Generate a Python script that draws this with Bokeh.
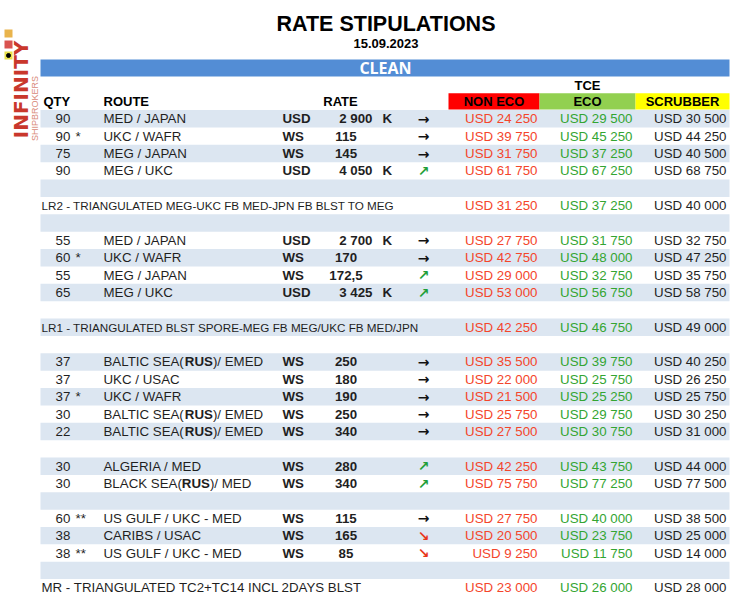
import math
from bokeh.plotting import figure
from bokeh.models import Range1d
from bokeh.embed import file_html
from bokeh.resources import INLINE
from bokeh.core.properties import value

# ---------------- data ----------------
title = "RATE STIPULATIONS"
report_date = "15.09.2023"
segment = "CLEAN"
tce_label = "TCE"
tce_columns = ["NON ECO", "ECO", "SCRUBBER"]
head_labels = ["QTY", "ROUTE", "RATE"]

# 28 table rows ("" = empty spacer row)
qty = ["90", "90", "75", "90", "", "", "", "55", "60", "55", "65", "", "", "",
       "37", "37", "37", "30", "22", "", "30", "30", "", "60", "38", "38", "", ""]
qty_mark = ["", "*", "", "", "", "", "", "", "*", "", "", "", "", "",
            "", "", "*", "", "", "", "", "", "", "**", "", "**", "", ""]
route = ["MED / JAPAN", "UKC / WAFR", "MEG / JAPAN", "MEG / UKC", "", "", "",
         "MED / JAPAN", "UKC / WAFR", "MEG / JAPAN", "MEG / UKC", "", "", "",
         "BALTIC SEA(RUS)/ EMED", "UKC / USAC", "UKC / WAFR", "BALTIC SEA(RUS)/ EMED",
         "BALTIC SEA(RUS)/ EMED", "", "ALGERIA / MED", "BLACK SEA(RUS)/ MED", "",
         "US GULF / UKC - MED", "CARIBS / USAC", "US GULF / UKC - MED", "", ""]
note = ["", "", "", "", "", "LR2 - TRIANGULATED MEG-UKC FB MED-JPN FB BLST TO MEG", "",
        "", "", "", "", "", "LR1 - TRIANGULATED BLST SPORE-MEG FB MEG/UKC FB MED/JPN", "",
        "", "", "", "", "", "", "", "", "", "", "", "", "",
        "MR - TRIANGULATED TC2+TC14 INCL 2DAYS BLST"]
currency = ["USD", "WS", "WS", "USD", "", "", "", "USD", "WS", "WS", "USD", "", "", "",
            "WS", "WS", "WS", "WS", "WS", "", "WS", "WS", "", "WS", "WS", "WS", "", ""]
rate = [2900, 115, 145, 4050, None, None, None, 2700, 170, 172.5, 3425, None, None, None,
        250, 180, 190, 250, 340, None, 280, 340, None, 115, 165, 85, None, None]
rate_unit = ["K", "", "", "K", "", "", "", "K", "", "", "K", "", "", "",
             "", "", "", "", "", "", "", "", "", "", "", "", "", ""]
trend = ["flat", "flat", "flat", "up", "", "", "", "flat", "flat", "up", "up", "", "", "",
         "flat", "flat", "flat", "flat", "flat", "", "up", "up", "", "flat", "down", "down", "", ""]
non_eco = [24250, 39750, 31750, 61750, None, 31250, None, 27750, 42750, 29000, 53000, None, 42250, None,
           35500, 22000, 21500, 25750, 27500, None, 42250, 75750, None, 27750, 20500, 9250, None, 23000]
eco = [29500, 45250, 37250, 67250, None, 37250, None, 31750, 48000, 32750, 56750, None, 46750, None,
       39750, 25750, 25250, 29750, 30750, None, 43750, 77250, None, 40000, 23750, 11750, None, 26000]
scrubber = [30500, 44250, 40500, 68750, None, 40000, None, 32750, 47250, 35750, 58750, None, 49000, None,
            40250, 26250, 25750, 30250, 31000, None, 44000, 77500, None, 38500, 25000, 14000, None, 28000]

# ---------------- layout / style ----------------
W, H = 736, 599
Y0, DY = 118.3, 17.37
TBL_L, TBL_R = 40, 729
X_QTY, X_MARK, X_ROUTE, X_CUR = 55, 75, 103, 282
X_RATE_R, X_RATE_C, X_K, X_ARROW = 372, 345.5, 382, 423
X_NOTE = 41
COL_EDGES = [448, 539, 635, 729]
FONT = "Liberation Sans"
FS = "13.3px"
FS_NOTE = "11.7px"
STRIPE = "#dce6f1"
BAR = "#538dd5"
HEAD_COLORS = ["#ff0000", "#92d050", "#ffff00"]
VAL_COLORS = ["#f4452b", "#33a532", "#1f1f1f"]
ARROW = {"flat": ("\u2192", "#111111"), "up": ("\u2197", "#1e9e3a"), "down": ("\u2198", "#e8361c")}

REG = {' ': 278, '(': 333, ')': 333, '/': 278, '-': 333, 'A': 667, 'B': 667, 'C': 722, 'D': 722,
       'E': 667, 'F': 611, 'G': 778, 'H': 722, 'I': 278, 'J': 500, 'K': 667, 'L': 556, 'M': 833,
       'N': 722, 'O': 778, 'P': 667, 'Q': 778, 'R': 722, 'S': 667, 'T': 611, 'U': 722, 'V': 667,
       'W': 944, 'X': 667, 'Y': 667, 'Z': 611}
BOLD = {'R': 722, 'U': 722, 'S': 667}


def tw(s, table, size):
    return sum(table.get(c, 556) for c in s) * size / 1000.0


def fmt_usd(v):
    return "USD " + f"{v:,}".replace(",", " ")


def fmt_rate(v, cur):
    if v is None:
        return ""
    if cur == "USD":
        return f"{int(v):,}".replace(",", " ")
    if float(v).is_integer():
        return str(int(v))
    return str(v).replace(".", ",")


p = figure(width=W, height=H, x_range=Range1d(0, W), y_range=Range1d(H, 0),
           output_backend="svg", toolbar_location=None, min_border=0,
           x_axis_type=None, y_axis_type=None)
p.grid.visible = False
p.outline_line_color = None
p.background_fill_color = "white"
p.border_fill_color = "white"


def txt(x, y, t, size=FS, align="left", bold=False, color="#1f1f1f", font=FONT, angle=0):
    p.text(x=x, y=y, text=t, text_font=value(font), text_font_size=size, text_align=align,
           text_baseline="middle", text_color=color, text_font_style="bold" if bold else "normal",
           angle=angle)


n = len(qty)
ys = [Y0 + i * DY for i in range(n)]

# stripes
sy = [ys[i] for i in range(n) if i % 2 == 0]
p.quad(left=TBL_L, right=TBL_R, top=[y - DY / 2 for y in sy], bottom=[y + DY / 2 for y in sy],
       fill_color=STRIPE, line_color=None)

# title
txt(385.5, 23.5, [title], size="21.5px", align="center", bold=True, color="#000000")
txt(385.5, 42.5, [report_date], size="13px", align="center", bold=True, color="#000000")

# CLEAN bar
p.quad(left=TBL_L, right=TBL_R, top=59, bottom=76, fill_color=BAR, line_color=None)
txt(385, 67.5, [segment], size="16px", align="center", bold=True, color="white", font="Open Sans")

# TCE header
txt(587, 84.5, [tce_label], size="13px", align="center", bold=True, color="#000000")
hy = Y0 - DY
p.quad(left=COL_EDGES[:-1], right=COL_EDGES[1:], top=hy - DY / 2 + 0.5, bottom=hy + DY / 2 - 0.5,
       fill_color=HEAD_COLORS, line_color=None)
centers = [(COL_EDGES[i] + COL_EDGES[i + 1]) / 2 for i in range(3)]
txt(centers, [hy] * 3, tce_columns, size="13px", align="center", bold=True, color="#000000")
txt(43, hy, [head_labels[0]], size="13px", bold=True, color="#000000")
txt(X_ROUTE, hy, [head_labels[1]], size="13px", bold=True, color="#000000")
txt(340, hy, [head_labels[2]], size="13px", align="center", bold=True, color="#000000")

# rows
rows = [i for i in range(n) if qty[i]]
txt(X_QTY, [ys[i] for i in rows], [qty[i] for i in rows])
mk = [i for i in rows if qty_mark[i]]
txt(X_MARK, [ys[i] for i in mk], [qty_mark[i] for i in mk])

size_main = 13.3
for i in rows:
    r = route[i]
    if "RUS" in r:
        pre, post = r.split("RUS")
        x1 = X_ROUTE + tw(pre, REG, size_main)
        x2 = x1 + tw("RUS", BOLD, size_main)
        txt(X_ROUTE, [ys[i]], [pre])
        txt(x1, [ys[i]], ["RUS"], bold=True)
        txt(x2, [ys[i]], [post])
    else:
        txt(X_ROUTE, [ys[i]], [r])

txt(X_CUR, [ys[i] for i in rows], [currency[i] for i in rows], bold=True)
usd = [i for i in rows if currency[i] == "USD"]
ws = [i for i in rows if currency[i] == "WS"]
txt(X_RATE_R, [ys[i] for i in usd], [fmt_rate(rate[i], "USD") for i in usd], align="right", bold=True)
txt(X_RATE_C, [ys[i] for i in ws], [fmt_rate(rate[i], "WS") for i in ws], align="center", bold=True)
kk = [i for i in rows if rate_unit[i]]
txt(X_K, [ys[i] for i in kk], [rate_unit[i] for i in kk], bold=True)

for kind, (glyph, col) in ARROW.items():
    idx = [i for i in rows if trend[i] == kind]
    if idx:
        txt(X_ARROW, [ys[i] for i in idx], [glyph] * len(idx), size="14px", align="center",
            bold=True, color=col, font="DejaVu Sans")

# notes
for i in range(n):
    if note[i]:
        size = FS if note[i].startswith("MR") else FS_NOTE
        txt(X_NOTE, [ys[i]], [note[i]], size=size)

# TCE values
for series, right, col in zip([non_eco, eco, scrubber], [537, 632, 726], VAL_COLORS):
    idx = [i for i in range(n) if series[i] is not None]
    txt(right, [ys[i] for i in idx], [fmt_usd(series[i]) for i in idx], align="right", color=col)

# logo
txt(20, 89, ["INFINITY"], size="20px", align="center", bold=True, color="#c9372c",
    font="DejaVu Sans", angle=math.pi / 2)
txt(34, 108, ["SHIPBROKERS"], size="9px", align="center", color="#d98a7a", angle=math.pi / 2)
p.quad(left=[4, 4, 4], right=[12, 12, 12], top=[29, 40, 51], bottom=[37, 48, 59],
       fill_color=["#e9b44c", "#d9534f", "#e8e04a"], line_color=None)
p.scatter(x=[8], y=[55], size=4, color="black")

open("out.html", "w").write(file_html(p, INLINE))
